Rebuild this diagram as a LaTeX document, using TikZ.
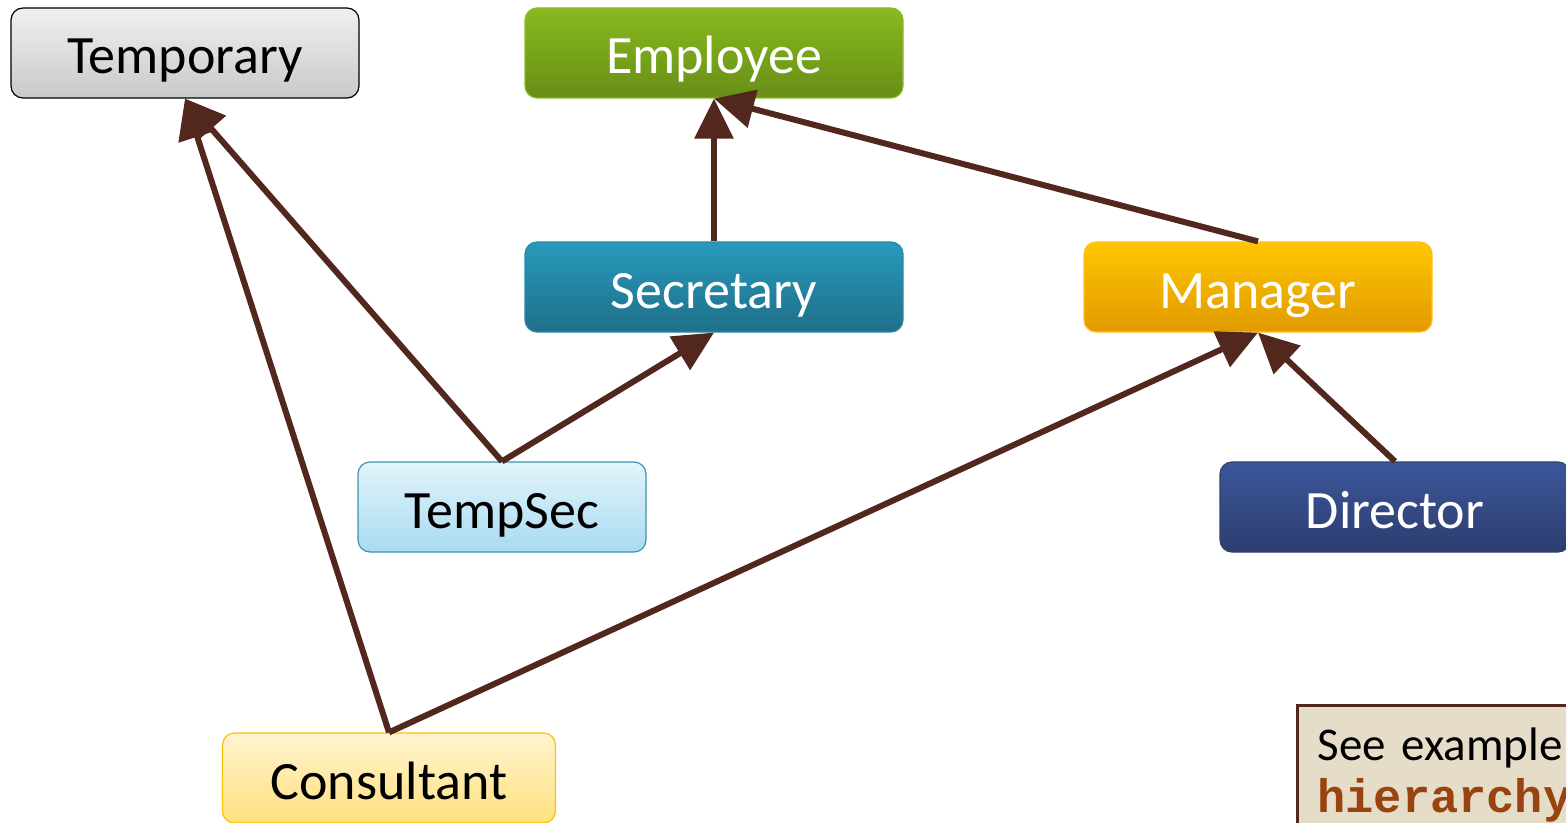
\documentclass[tikz,border=0pt]{standalone}
\usepackage{fontspec}
\setmainfont{Carlito}
\newfontfamily\codefont{Liberation Mono}
\usetikzlibrary{arrows.meta}

\definecolor{linkbrown}{HTML}{52281E}
\definecolor{notefill}{HTML}{E6DDC9}
\definecolor{codebrown}{HTML}{984310}
% box colours: edge, top, bottom
\definecolor{greenedge}{HTML}{8DB92B}
\definecolor{greentop}{HTML}{88BA1E}
\definecolor{greenbot}{HTML}{688E17}
\definecolor{tealedge}{HTML}{2A8AA8}
\definecolor{tealtop}{HTML}{289ABC}
\definecolor{tealbot}{HTML}{1F6F89}
\definecolor{goldedge}{HTML}{FFC21A}
\definecolor{goldtop}{HTML}{FFC600}
\definecolor{goldbot}{HTML}{E19A00}
\definecolor{paleedge}{HTML}{3F93B0}
\definecolor{paletop}{HTML}{E3F4FB}
\definecolor{palebot}{HTML}{A8DBF0}
\definecolor{navyedge}{HTML}{2E416F}
\definecolor{navytop}{HTML}{3C5699}
\definecolor{navybot}{HTML}{2D3E70}
\definecolor{creamedge}{HTML}{FFC000}
\definecolor{creamtop}{HTML}{FFF4D0}
\definecolor{creambot}{HTML}{FFE07D}

\tikzset{
  box/.style={rounded corners=6pt, minimum width=174pt, minimum height=45pt,
    inner sep=0pt, text height=21pt, text depth=0pt, line width=0.6pt,
    font=\fontsize{27}{32}\selectfont},
  greybox/.style={box, draw=black, top color=gray!12, bottom color=gray!42},
  greenbox/.style={box, draw=greenedge, text=white, top color=greentop, bottom color=greenbot},
  tealbox/.style={box, draw=tealedge, text=white, top color=tealtop, bottom color=tealbot},
  goldbox/.style={box, draw=goldedge, text=white, top color=goldtop, bottom color=goldbot},
  paleblue/.style={box, draw=paleedge, top color=paletop, bottom color=palebot},
  navybox/.style={box, draw=navyedge, text=white, top color=navytop, bottom color=navybot},
  paleyellow/.style={box, draw=creamedge, top color=creamtop, bottom color=creambot},
  isa/.style={draw=linkbrown, line width=3pt, -{Triangle[length=20pt,width=19pt]}},
}

\begin{document}
\begin{tikzpicture}[x=0.5pt,y=-0.5pt]
\useasboundingbox (0,0) rectangle (1566,823);
\clip (0,0) rectangle (1566,823);

% classes
\node[greybox] (temporary) at (185,53) {Temporary};
\node[greenbox, minimum width=189pt] (employee) at (714,53) {Employee};
\node[tealbox, minimum width=189pt] (secretary) at (714,287) {Secretary};
\node[goldbox] (manager) at (1258,287) {Manager};
\node[paleblue, minimum width=144pt] (tempsec) at (502,507) {TempSec};
\node[navybox, minimum width=175pt] (director) at (1395,507) {Director};
\node[paleyellow, minimum width=166.5pt] (consultant) at (389,778) {Consultant};

% inheritance links
\draw[isa] (secretary.north) -- (employee.south);
\draw[isa] (manager.north) -- (employee.south);
\draw[isa] (tempsec.north) -- (secretary.south);
\draw[isa] (tempsec.north) -- (temporary.south);
\draw[isa] (consultant.north) -- (temporary.south);
\draw[isa] (consultant.north) -- (manager.south);
\draw[isa] (director.north) -- (manager.south);

% note
\node[draw=linkbrown, line width=1.5pt, fill=notefill, anchor=north west,
  text width=160pt, inner xsep=10pt, inner ysep=11pt,
  align=left, font=\fontsize{23.5}{26}\selectfont] (note) at (1296,704)
  {See example\\{\codefont\bfseries\color{codebrown}hierarchy}};
\end{tikzpicture}
\end{document}
